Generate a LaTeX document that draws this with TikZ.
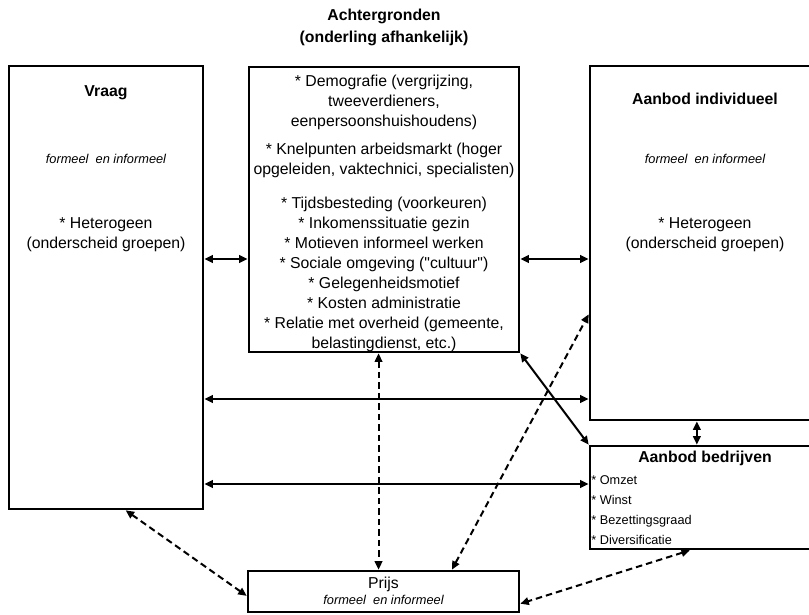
\documentclass[tikz,border=0pt]{standalone}
\usepackage{fontspec}
\setmainfont{Liberation Sans}
\usetikzlibrary{positioning,arrows.meta,calc}

\begin{document}
\begin{tikzpicture}[
x=1pt,y=-1pt,
box/.style={rectangle,draw,line width=2.6pt,inner sep=0pt},
txt/.style={font=\fontsize{15.8}{20}\selectfont,align=center,inner sep=0pt},
ttl/.style={font=\bfseries\fontsize{15.8}{22}\selectfont,align=center,inner sep=0pt},
sml/.style={font=\itshape\fontsize{12.8}{15}\selectfont,align=center,inner sep=0pt},
itm/.style={font=\fontsize{12.7}{20}\selectfont,align=left,inner sep=0pt,anchor=west},
arrow/.style={{Triangle[length=8.5pt,width=7.5pt]}-{Triangle[length=8.5pt,width=7.5pt]},line width=2pt},
darrow/.style={arrow,dash pattern=on 6.5pt off 4pt}
]
\useasboundingbox (0,0) rectangle (809,614);
% boxes
\node[box,minimum width=194pt,minimum height=443pt] (vraag) at (106,287.5) {};
\node[box,minimum width=270pt,minimum height=285pt] (mid) at (384,209.5) {};
\node[box,minimum width=230pt,minimum height=354pt] (aanbod) at (705,243) {};
\node[box,minimum width=230pt,minimum height=103pt] (bedrijven) at (705,497.5) {};
\node[box,minimum width=271pt,minimum height=41pt] (prijs) at (383.5,591.5) {};
% texts
\node[ttl] (achter) at (384,27.5) {Achtergronden\\(onderling afhankelijk)};
\node[ttl] (vraagT) at ([yshift=-27.6pt]vraag.north) {Vraag};
\node[sml] (vraagF) at ([yshift=-94pt]vraag.north) {formeel~ en informeel};
\node[txt] (vraagH) at ([yshift=-169.6pt]vraag.north) {* Heterogeen\\(onderscheid groepen)};
\node[ttl] (aanbodT) at ([yshift=-34.6pt]aanbod.north) {Aanbod individueel};
\node[sml] (aanbodF) at ([yshift=-94pt]aanbod.north) {formeel~ en informeel};
\node[txt] (aanbodH) at ([yshift=-169.6pt]aanbod.north) {* Heterogeen\\(onderscheid groepen)};
\node[txt] (midT) at ([yshift=-3.5pt]mid.center) {* Demografie (vergrijzing,\\tweeverdieners,\\eenpersoonshuishoudens)\\[8pt]
* Knelpunten arbeidsmarkt (hoger\\opgeleiden, vaktechnici, specialisten)\\[14pt]
* Tijdsbesteding (voorkeuren)\\* Inkomenssituatie gezin\\* Motieven informeel werken\\
* Sociale omgeving (\textquotedbl cultuur\textquotedbl)\\* Gelegenheidsmotief\\* Kosten administratie\\
* Relatie met overheid (gemeente,\\belastingdienst, etc.)};
\node[ttl] (bedrijvenT) at ([yshift=-13.6pt]bedrijven.north) {Aanbod bedrijven};
\node[itm] (bedrijvenI) at ([xshift=2.5pt,yshift=-12.5pt]bedrijven.west) {* Omzet\\* Winst\\* Bezettingsgraad\\* Diversificatie};
\node[txt] (prijsT) at ([yshift=-14.5pt]prijs.north) {Prijs};
\node[sml] (prijsF) at ([yshift=-30pt]prijs.north) {formeel~ en informeel};
% connectors
\coordinate (rowA) at (0,259);
\coordinate (rowB) at (0,399);
\coordinate (rowC) at (0,484);
\draw[arrow] (vraag.east |- rowA) -- (mid.west |- rowA);
\draw[arrow] (mid.east |- rowA) -- (aanbod.west |- rowA);
\draw[arrow] (vraag.east |- rowB) -- (aanbod.west |- rowB);
\draw[arrow] (vraag.east |- rowC) -- (bedrijven.west |- rowC);
\draw[arrow] (mid.south east) -- (bedrijven.north west);
\draw[arrow] ($(aanbod.south west)!0.465!(aanbod.south east)$) -- ($(bedrijven.north west)!0.465!(bedrijven.north east)$);
\draw[darrow] ($(mid.south west)!0.48!(mid.south east)$) coordinate (dA) -- (dA |- prijs.north);
\draw[darrow] ($(prijs.north west)!0.75!(prijs.north east)$) -- ($(aanbod.north west)!0.7!(aanbod.south west)$);
\draw[darrow] ($(vraag.south west)!0.6!(vraag.south east)$) -- ($(prijs.north west)!0.6!(prijs.south west)$);
\draw[darrow] ($(bedrijven.south west)!0.435!(bedrijven.south east)$) -- ($(prijs.north east)!0.78!(prijs.south east)$);
\end{tikzpicture}
\end{document}
